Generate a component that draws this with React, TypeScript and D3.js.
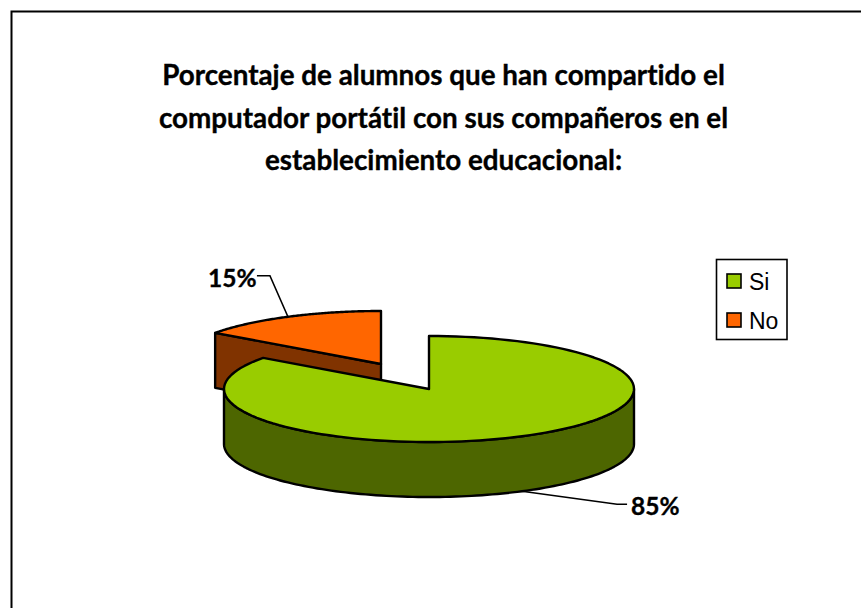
import React from "react";
import * as d3 from "d3";

const categories = ["Si", "No"];
const values = [85, 15];
const labels = ["85%", "15%"];
const fills = ["#99CC00", "#FF6600"];
const sideFills = ["#4D6600", "#803300"];
const titleLines = [
  "Porcentaje de alumnos que han compartido el",
  "computador portátil con sus compañeros en el",
  "establecimiento educacional:",
];

const W = 861, H = 608;
const cx = 429, cy = 389, rx = 205, ry = 53, depth = 55;
const explode = [[0, 0], [-48, -25]];

const pie = d3.pie<number>().sort(null).startAngle(0).endAngle(2 * Math.PI);
const arcs = pie(values);

const pt = (a: number, i: number, dz = 0): [number, number] => [
  cx + explode[i][0] + Math.sin(a) * rx,
  cy + explode[i][1] - Math.cos(a) * ry + dz,
];
const apex = (i: number, dz = 0): [number, number] => [cx + explode[i][0], cy + explode[i][1] + dz];
const sample = (a0: number, a1: number, i: number, dz = 0) =>
  d3.range(0, 121).map((k) => pt(a0 + ((a1 - a0) * k) / 120, i, dz));

const line = d3.line();
const topPath = (i: number) =>
  line([apex(i), ...sample(arcs[i].startAngle, arcs[i].endAngle, i)])! + "Z";

// rim of the big slice: only the front half faces the viewer
const frontPath = (() => {
  const a = sample(Math.PI / 2, (3 * Math.PI) / 2, 0);
  const b = sample((3 * Math.PI) / 2, Math.PI / 2, 0, depth);
  return line([...a, ...b])! + "Z";
})();

// cut face of the small slice that looks towards the viewer
const cutPath = (() => {
  const a = arcs[1].startAngle;
  return line([apex(1), pt(a, 1), pt(a, 1, depth), apex(1, depth)])! + "Z";
})();

const mid = (i: number) => (arcs[i].startAngle + arcs[i].endAngle) / 2;
const p85 = pt(mid(0), 0, depth);
const p15 = pt(mid(1), 1);

const stroke = { stroke: "#000", strokeWidth: 2.4, strokeLinejoin: "round" as const };
const boldText = {
  fontFamily: "Lato, Carlito, sans-serif",
  fontWeight: 700,
  fill: "#000",
  stroke: "#000",
  strokeWidth: 0.35,
  style: { fontVariantLigatures: "none" as const },
};

export default function App() {
  return (
    <svg width={W} height={H} viewBox={`0 0 ${W} ${H}`} style={{ position: "fixed", left: 0, top: 0, background: "#fff" }}>
      <path d={`M11.5 ${H + 5}V11.5H${W + 5}`} fill="none" stroke="#000" strokeWidth={2} />
      {titleLines.map((t, i) => (
        <text key={t} x={443.5} y={85 + i * 42.5} textAnchor="middle" fontSize={27.8} {...boldText}>
          {t}
        </text>
      ))}

      <path d={cutPath} fill={sideFills[1]} {...stroke} />
      <path d={topPath(1)} fill={fills[1]} {...stroke} />
      <path d={frontPath} fill={sideFills[0]} {...stroke} />
      <path d={topPath(0)} fill={fills[0]} {...stroke} />

      <polyline points={`${p15[0]},${p15[1]} ${p15[0] - 18},${p15[1] - 41} ${p15[0] - 31},${p15[1] - 41}`} fill="none" stroke="#000" strokeWidth={1.6} />
      <polyline points={`${p85[0]},${p85[1]} ${p85[0] + 95},${p85[1] + 13} ${p85[0] + 105},${p85[1] + 13}`} fill="none" stroke="#000" strokeWidth={1.6} />
      <text x={208} y={287} fontSize={24.5} {...boldText}>{labels[1]}</text>
      <text x={631} y={515} fontSize={24.5} {...boldText}>{labels[0]}</text>

      <rect x={716.5} y={259.5} width={70.5} height={80} fill="#fff" stroke="#000" strokeWidth={1.6} />
      {categories.map((c, i) => (
        <g key={c} transform={`translate(0, ${i * 39})`}>
          <rect x={727} y={274} width={14} height={14} fill={fills[i]} stroke="#000" strokeWidth={1.6} />
          <text x={749} y={290} fontFamily="'Liberation Sans', Arial, sans-serif" fontSize={23} fill="#000">{c}</text>
        </g>
      ))}
    </svg>
  );
}
